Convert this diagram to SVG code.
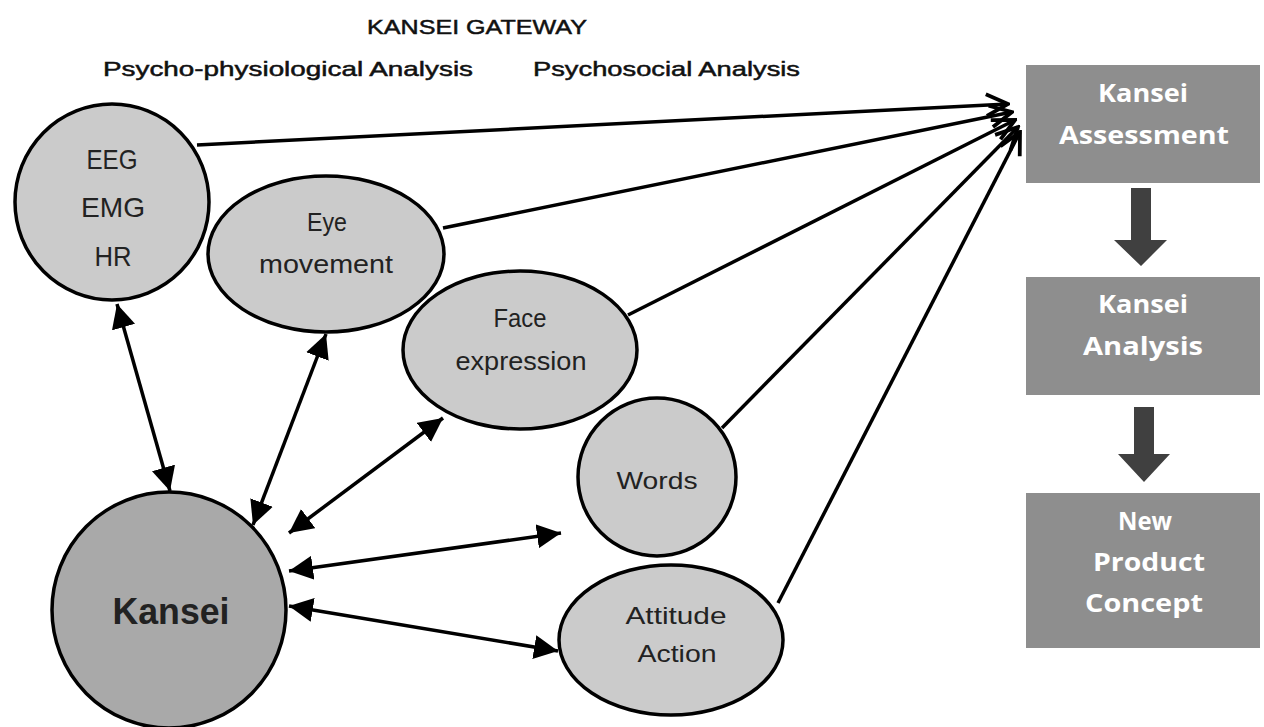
<svg xmlns="http://www.w3.org/2000/svg" width="1264" height="727" viewBox="0 0 1264 727">
<defs>
<style>
.node{fill:#cbcbcb;stroke:#000;stroke-width:3.5}
.core{fill:#a9a9a9;stroke:#000;stroke-width:3.5}
.lbl{font-family:"Liberation Sans","Open Sans",sans-serif;fill:#222;text-anchor:middle}
.box{fill:#8e8e8e}
.btxt{font-family:"Open Sans","DejaVu Sans",sans-serif;font-weight:bold;fill:#fff;font-size:25px;text-anchor:middle}
.hdr{font-family:"Liberation Sans","Open Sans",sans-serif;fill:#111;font-size:21px;stroke:#111;stroke-width:0.5}
.ln{stroke:#000;stroke-width:3.5;fill:none}
</style>
<marker id="tri" viewBox="0 0 10 10" refX="10" refY="5" markerWidth="24" markerHeight="24" markerUnits="userSpaceOnUse" orient="auto-start-reverse">
<path d="M0,0 L10,5 L0,10 Z" fill="#000"/>
</marker>
<marker id="open" viewBox="0 0 24 24" refX="22" refY="12" markerWidth="26" markerHeight="26" markerUnits="userSpaceOnUse" orient="auto">
<path d="M2,2 L22,12 L2,22" fill="none" stroke="#000" stroke-width="3.5"/>
</marker>
</defs>
<rect width="1264" height="727" fill="#fff"/>

<g id="headers">
<text class="hdr" x="477" y="34" text-anchor="middle" textLength="220" lengthAdjust="spacingAndGlyphs">KANSEI GATEWAY</text>
<text class="hdr" x="103" y="76" textLength="370" lengthAdjust="spacingAndGlyphs">Psycho-physiological Analysis</text>
<text class="hdr" x="533" y="76" textLength="267" lengthAdjust="spacingAndGlyphs">Psychosocial Analysis</text>
</g>

<g id="connectors">
<line class="ln" x1="197" y1="145" x2="1008" y2="104" marker-end="url(#open)"/>
<line class="ln" x1="443" y1="228" x2="1012" y2="112" marker-end="url(#open)"/>
<line class="ln" x1="628" y1="315" x2="1015" y2="120" marker-end="url(#open)"/>
<line class="ln" x1="722" y1="428" x2="1018" y2="127" marker-end="url(#open)"/>
<line class="ln" x1="778" y1="603" x2="1020" y2="132" marker-end="url(#open)"/>

<line class="ln" x1="117" y1="304" x2="170" y2="491" marker-start="url(#tri)" marker-end="url(#tri)"/>
<line class="ln" x1="326" y1="334" x2="253" y2="525" marker-start="url(#tri)" marker-end="url(#tri)"/>
<line class="ln" x1="443" y1="418" x2="289" y2="533" marker-start="url(#tri)" marker-end="url(#tri)"/>
<line class="ln" x1="289" y1="571" x2="561" y2="533" marker-start="url(#tri)" marker-end="url(#tri)"/>
<line class="ln" x1="289" y1="606" x2="558" y2="651" marker-start="url(#tri)" marker-end="url(#tri)"/>
</g>

<g id="node-eeg">
<ellipse class="node" cx="112" cy="202" rx="97" ry="98"/>
<text class="lbl" x="112" y="169" font-size="28" textLength="51" lengthAdjust="spacingAndGlyphs">EEG</text>
<text class="lbl" x="113" y="217" font-size="28" textLength="64" lengthAdjust="spacingAndGlyphs">EMG</text>
<text class="lbl" x="113" y="266" font-size="28" textLength="37" lengthAdjust="spacingAndGlyphs">HR</text>
</g>
<g id="node-eye">
<ellipse class="node" cx="326" cy="254" rx="118" ry="78"/>
<text class="lbl" x="327" y="231" font-size="25" textLength="40" lengthAdjust="spacingAndGlyphs">Eye</text>
<text class="lbl" x="326" y="273" font-size="25" textLength="134" lengthAdjust="spacingAndGlyphs">movement</text>
</g>
<g id="node-face">
<ellipse class="node" cx="520" cy="350" rx="117" ry="79"/>
<text class="lbl" x="520" y="327" font-size="25" textLength="53" lengthAdjust="spacingAndGlyphs">Face</text>
<text class="lbl" x="521" y="370" font-size="25" textLength="131" lengthAdjust="spacingAndGlyphs">expression</text>
</g>
<g id="node-words">
<ellipse class="node" cx="657" cy="477" rx="79" ry="79"/>
<text class="lbl" x="657" y="489" font-size="24" textLength="81" lengthAdjust="spacingAndGlyphs">Words</text>
</g>
<g id="node-attitude">
<ellipse class="node" cx="671" cy="640" rx="112" ry="75"/>
<text class="lbl" x="676" y="624" font-size="24" textLength="101" lengthAdjust="spacingAndGlyphs">Attitude</text>
<text class="lbl" x="677" y="662" font-size="24" textLength="79" lengthAdjust="spacingAndGlyphs">Action</text>
</g>
<g id="node-kansei">
<ellipse class="core" cx="169" cy="610" rx="117" ry="118"/>
<text class="lbl" x="171" y="624" font-size="36" font-weight="bold" fill="#111" textLength="117" lengthAdjust="spacingAndGlyphs">Kansei</text>
</g>

<g id="node-assessment">
<rect class="box" x="1026" y="65" width="234" height="118"/>
<text class="btxt" x="1143" y="102" textLength="90" lengthAdjust="spacingAndGlyphs">Kansei</text>
<text class="btxt" x="1144" y="144" textLength="170" lengthAdjust="spacingAndGlyphs">Assessment</text>
</g>
<g id="node-analysis">
<rect class="box" x="1026" y="277" width="234" height="118"/>
<text class="btxt" x="1143" y="313" textLength="90" lengthAdjust="spacingAndGlyphs">Kansei</text>
<text class="btxt" x="1143" y="355" textLength="120" lengthAdjust="spacingAndGlyphs">Analysis</text>
</g>
<g id="node-concept">
<rect class="box" x="1026" y="493" width="234" height="155"/>
<text class="btxt" x="1145" y="530" textLength="54" lengthAdjust="spacingAndGlyphs">New</text>
<text class="btxt" x="1149" y="571" textLength="112" lengthAdjust="spacingAndGlyphs">Product</text>
<text class="btxt" x="1144" y="612" textLength="118" lengthAdjust="spacingAndGlyphs">Concept</text>
</g>
<g id="flow-arrows" fill="#404040">
<path d="M1131,188 H1151 V240 H1167 L1141,266 L1114,240 H1131 Z"/>
<path d="M1134,407 H1154 V454 H1170 L1144,482 L1118,454 H1134 Z"/>
</g>
</svg>
